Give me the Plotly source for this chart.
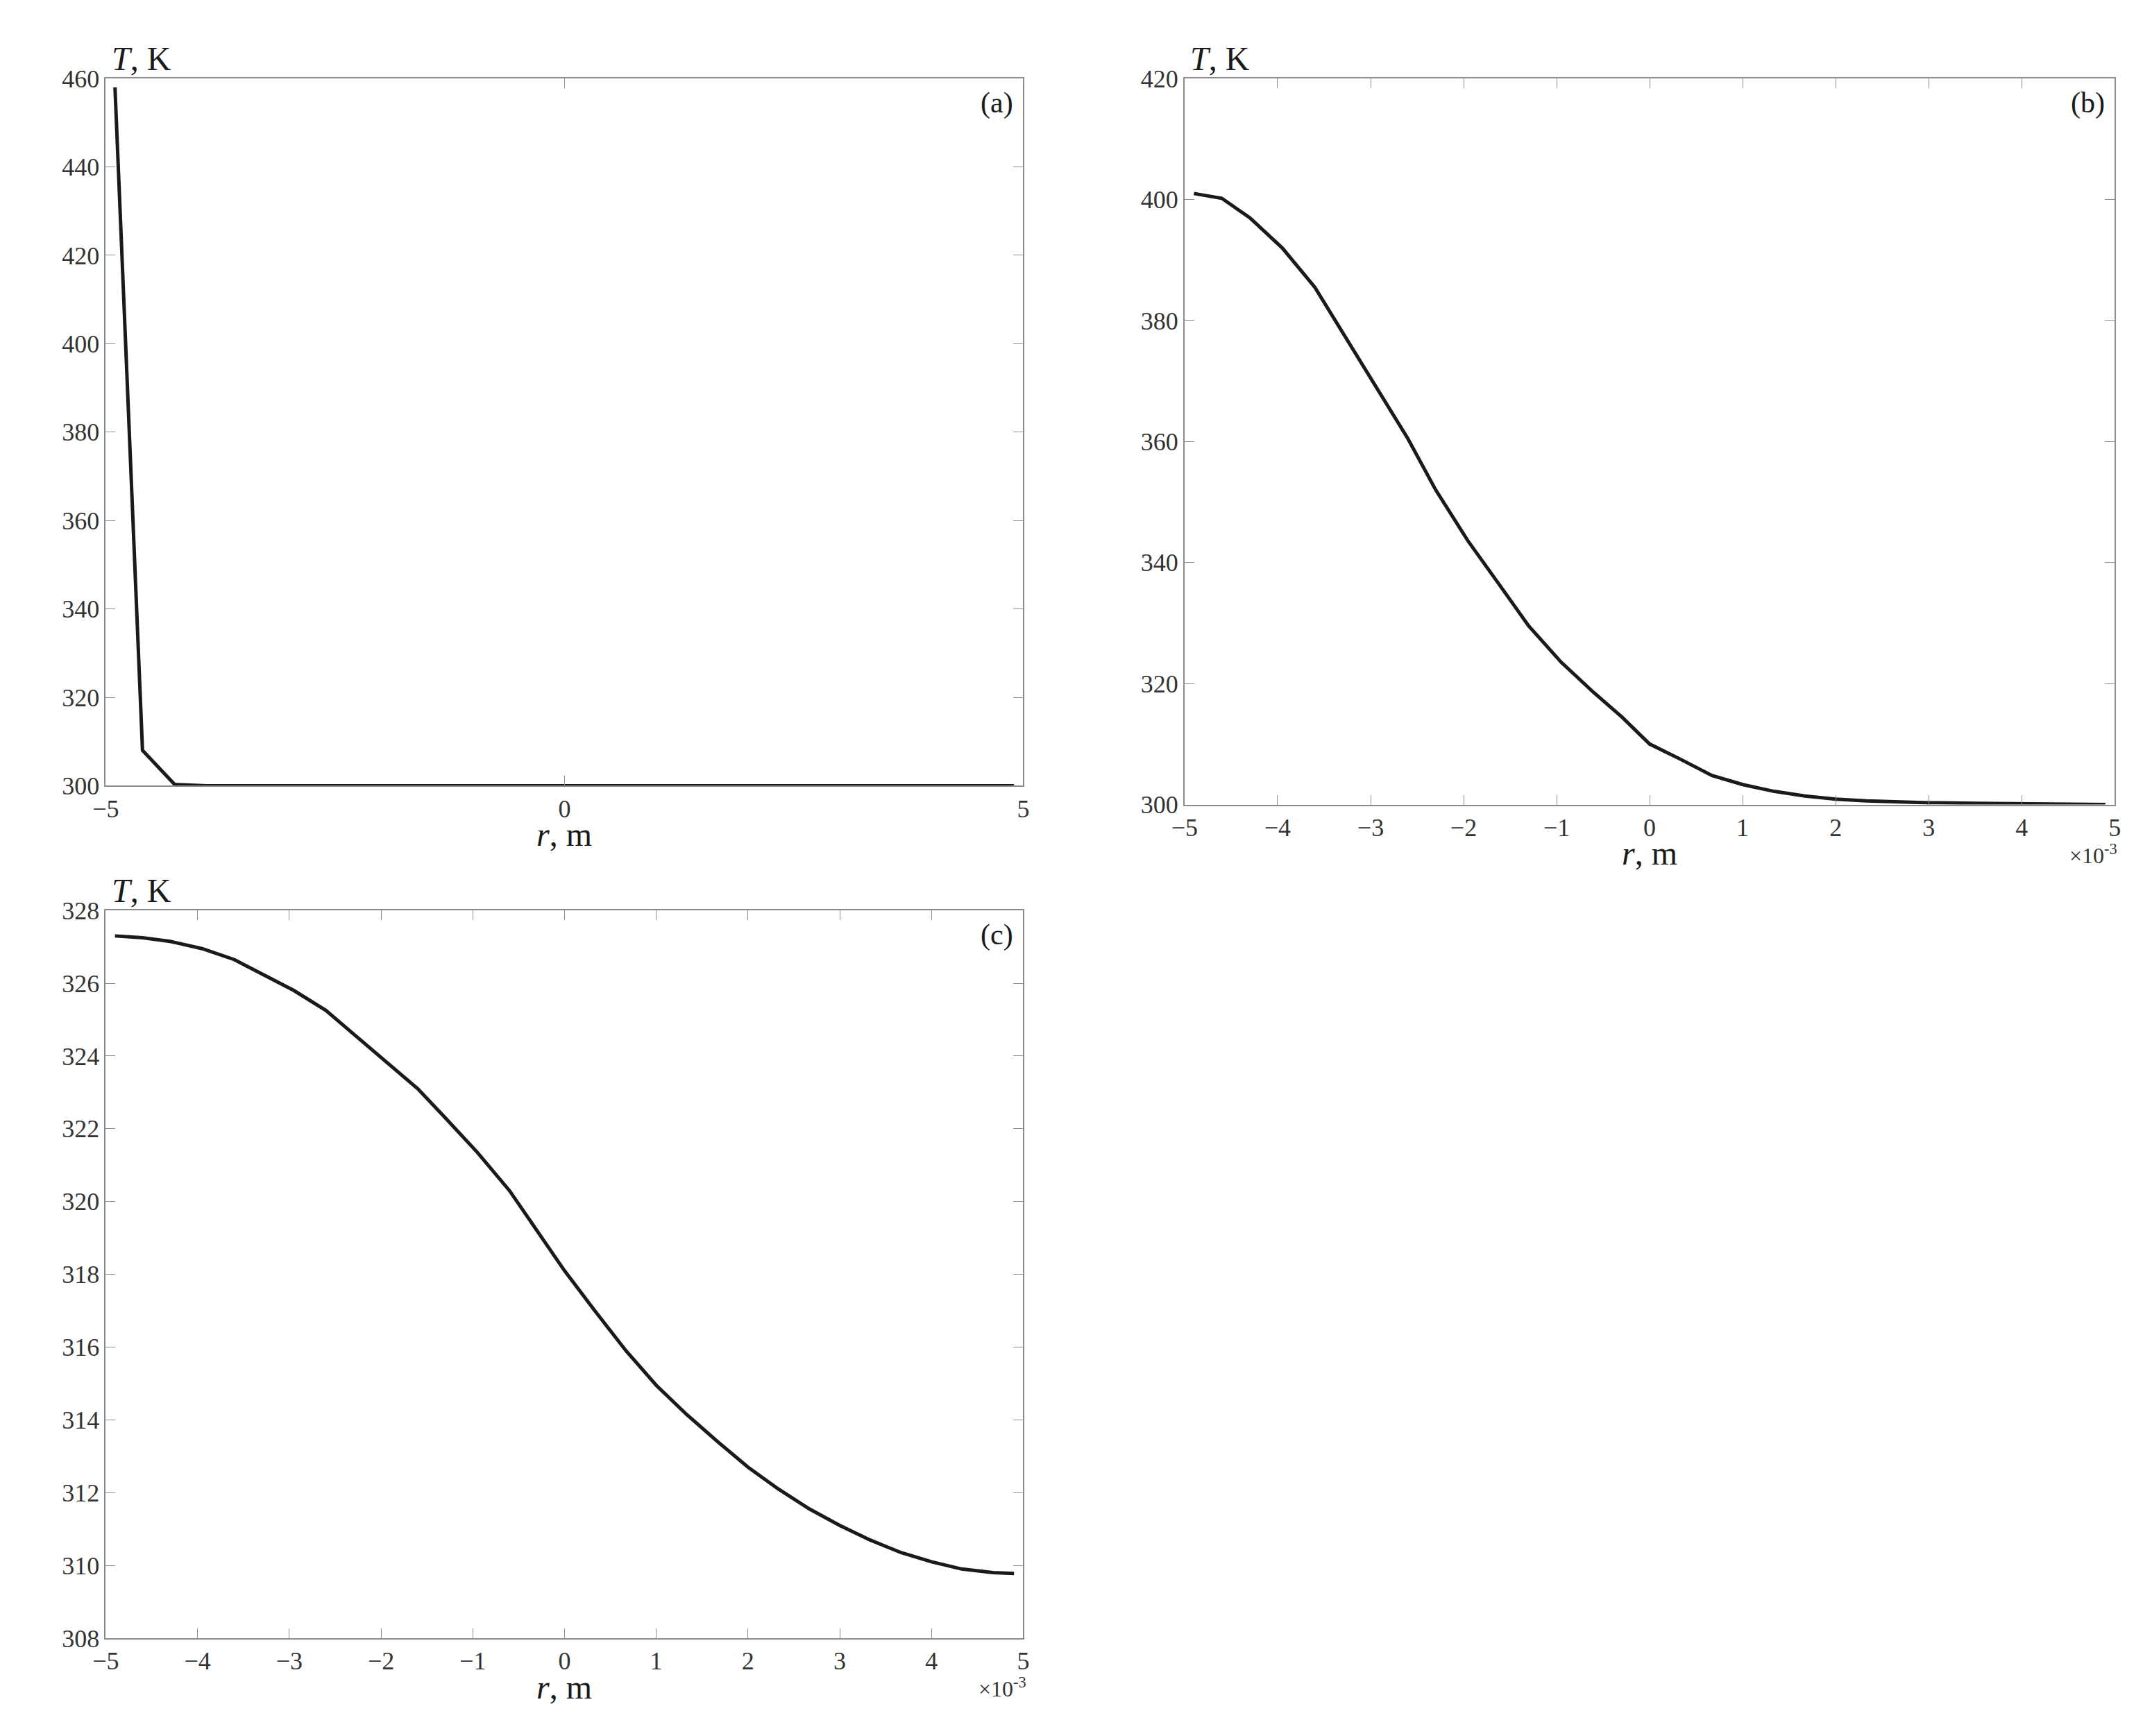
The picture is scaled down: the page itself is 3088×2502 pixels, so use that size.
import plotly.graph_objects as go

# panel (a)
xa = [-4.9, -4.6, -4.25, -3.9, -3.0, -2.0, -1.0, 0.0, 1.0, 2.0, 3.0, 4.0, 4.9]
ya = [458, 308, 300.3, 300, 300, 300, 300, 300, 300, 300, 300, 300, 300]
# panel (b) (x in 1e-3 m)
xb = [-4.9, -4.6, -4.3, -3.95, -3.6, -3.3, -2.95, -2.6, -2.3, -1.95, -1.6, -1.3, -0.95, -0.6, -0.3,
      0.0, 0.33, 0.67, 1.0, 1.33, 1.67, 2.0, 2.33, 2.67, 3.0, 3.5, 4.0, 4.9]
yb = [401, 400.2, 397, 392, 385.5, 378, 369.5, 360.5, 352, 343.5, 336, 329.5, 323.5, 318.5, 314.5,
      310, 307.5, 304.8, 303.3, 302.2, 301.4, 300.9, 300.6, 300.4, 300.3, 300.2, 300.1, 300.0]
# panel (c) (x in 1e-3 m)
xc = [-4.9, -4.6, -4.3, -3.95, -3.6, -3.3, -2.95, -2.6, -2.3, -1.95, -1.6, -1.3, -0.95, -0.6, -0.3,
      0.0, 0.33, 0.67, 1.0, 1.33, 1.67, 2.0, 2.33, 2.67, 3.0, 3.33, 3.67, 4.0, 4.33, 4.67, 4.9]
yc = [327.3, 327.25, 327.15, 326.95, 326.65, 326.25, 325.8, 325.25, 324.6, 323.85, 323.1, 322.3,
      321.35, 320.3, 319.2, 318.1, 317.0, 315.9, 314.95, 314.15, 313.4, 312.7, 312.1, 311.55,
      311.1, 310.7, 310.35, 310.1, 309.9, 309.8, 309.78]
xticks_a = [-5, 0, 5]
xticks_bc = [-5, -4, -3, -2, -1, 0, 1, 2, 3, 4, 5]

FONT = "Liberation Serif"
fig = go.Figure()
line = dict(color="#1a1a1a", width=5)
fig.add_trace(go.Scatter(x=xa, y=ya, mode="lines", line=line, xaxis="x", yaxis="y"))
fig.add_trace(go.Scatter(x=xb, y=yb, mode="lines", line=line, xaxis="x2", yaxis="y2"))
fig.add_trace(go.Scatter(x=xc, y=yc, mode="lines", line=line, xaxis="x3", yaxis="y3"))

ax = dict(showgrid=False, zeroline=False, showline=True, linecolor="#8c8c8c", linewidth=2,
          mirror="ticks", ticks="inside", ticklen=14, tickcolor="#8c8c8c",
          tickfont=dict(family=FONT, size=36, color="#333333"))
doms = {
    "": ([0.041, 0.473], [0.551, 0.965]),
    "2": ([0.549, 0.987], [0.540, 0.965]),
    "3": ([0.041, 0.473], [0.052, 0.478]),
}
fig.update_layout(
    width=3088, height=2502, showlegend=False, plot_bgcolor="white", paper_bgcolor="white",
    margin=dict(l=0, r=0, t=0, b=0),
    xaxis=dict(ax, domain=doms[""][0], range=[-5, 5], tickvals=xticks_a, anchor="y"),
    yaxis=dict(ax, domain=doms[""][1], range=[300, 460], dtick=20, anchor="x"),
    xaxis2=dict(ax, domain=doms["2"][0], range=[-5, 5], tickvals=xticks_bc, anchor="y2"),
    yaxis2=dict(ax, domain=doms["2"][1], range=[300, 420], dtick=20, anchor="x2"),
    xaxis3=dict(ax, domain=doms["3"][0], range=[-5, 5], tickvals=xticks_bc, anchor="y3"),
    yaxis3=dict(ax, domain=doms["3"][1], range=[308, 328], dtick=2, anchor="x3"),
)
ann = []
for k, lab in [("", "(a)"), ("2", "(b)"), ("3", "(c)")]:
    xd, yd = doms[k]
    ann.append(dict(text="<i>T</i>, K", xref="paper", yref="paper", x=xd[0] + 0.002, y=yd[1],
                    xanchor="left", yanchor="bottom", showarrow=False,
                    font=dict(family=FONT, size=48, color="#1a1a1a")))
    ann.append(dict(text=lab, xref="paper", yref="paper", x=xd[1] - 0.004, y=yd[1] - 0.004,
                    xanchor="right", yanchor="top", showarrow=False,
                    font=dict(family=FONT, size=42, color="#1a1a1a")))
    ann.append(dict(text="<i>r</i>, m", xref="paper", yref="paper", x=(xd[0] + xd[1]) / 2, y=yd[0] - 0.017,
                    xanchor="center", yanchor="top", showarrow=False,
                    font=dict(family=FONT, size=48, color="#1a1a1a")))
    if k:
        ann.append(dict(text="×10<sup>-3</sup>", xref="paper", yref="paper", x=xd[1] + 0.002, y=yd[0] - 0.02,
                        xanchor="right", yanchor="top", showarrow=False,
                        font=dict(family=FONT, size=32, color="#333333")))
fig.update_layout(annotations=ann)
fig.write_html("out.html")
